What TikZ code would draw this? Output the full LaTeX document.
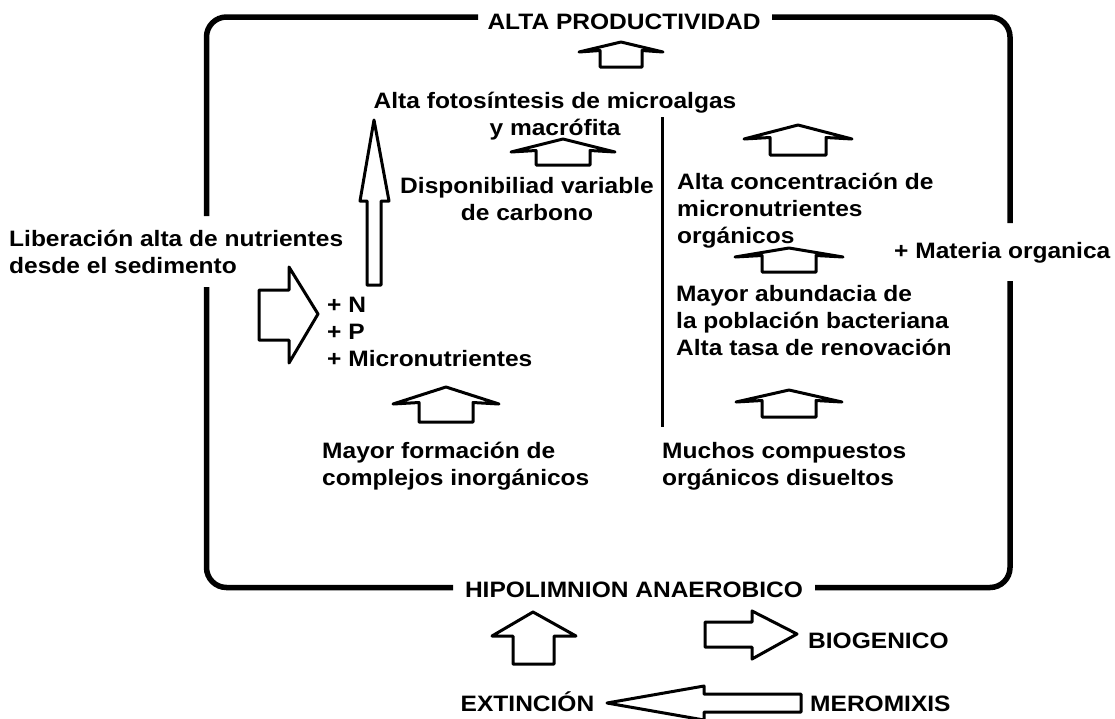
\documentclass[tikz,border=0pt]{standalone}
\usepackage{fontspec}
\newfontfamily\labfont{Liberation Sans Bold}[FakeStretch=1.1]
\begin{document}
\begin{tikzpicture}[x=1pt,y=-1pt,
  lbl/.style={font=\labfont\fontsize{22.3}{27}\selectfont, inner sep=0pt},
  frame/.style={line width=5.5pt, rounded corners=20pt},
  blk/.style={line width=3pt, line join=round, fill=white}]
  \useasboundingbox (0,0) rectangle (1115,718);
  % the box, broken by four labels
  \draw[frame] (478,17) -- (206.5,17) -- (206.5,216);
  \draw[frame] (206.5,287) -- (206.5,587.5) -- (453,587.5);
  \draw[frame] (815,587.5) -- (1010,587.5) -- (1010,281);
  \draw[frame] (1010,223) -- (1010,17) -- (772,17);
%
  \node[lbl, anchor=base] (prod) at (624,29) {ALTA PRODUCTIVIDAD};
  \node[lbl, anchor=base, align=center] (foto) at (555,135) {Alta fotosíntesis de microalgas\\y macrófita};
  \node[lbl, anchor=base, align=center] (carb) at (527,220) {Disponibiliad variable\\de carbono};
  \node[lbl, anchor=base west, align=left] (libera) at (9,273) {Liberación alta de nutrientes\\desde el sedimento};
  \node[lbl, anchor=base west, align=left] (nut) at (327,366) {+ N\\+ P\\+ Micronutrientes};
  \node[lbl, anchor=base west, align=left] (inorg) at (322,485) {Mayor formación de\\complejos inorgánicos};
  \node[lbl, anchor=base west, align=left] (disu) at (662,485) {Muchos compuestos\\orgánicos disueltos};
  \node[lbl, anchor=base west, align=left] (conc) at (677,243) {Alta concentración de\\micronutrientes\\orgánicos};
  \node[lbl, anchor=base west, align=left] (bact) at (676,355) {Mayor abundacia de\\la población bacteriana\\Alta tasa de renovación};
  \node[lbl, anchor=base west] (mat) at (894,258) {+ Materia organica};
  \node[lbl, anchor=base] (hipo) at (634,597) {HIPOLIMNION ANAEROBICO};
  \node[lbl, anchor=base west] (bio) at (808,648) {BIOGENICO};
  \node[lbl, anchor=base] (ext) at (527.5,711) {EXTINCIÓN};
  \node[lbl, anchor=base west] (mero) at (810,711) {MEROMIXIS};
%
  \draw[line width=3pt] (662,117) -- (662,427);
  % flat up arrows
  \foreach \cx/\ty/\hw/\sw/\wy/\by in {621/42/42/21/52/67, 563/139/52/27/152/165,
      798/125/54/28/139/155, 789/248/54/27/257/272, 446/387/53/27/404/422, 789/390/53/27/402/417}
    \draw[blk] (\cx,\ty) -- (\cx+\hw,\wy) -- (\cx+\sw,\wy-1.5) -- (\cx+\sw,\by) -- (\cx-\sw,\by)
      -- (\cx-\sw,\wy-1.5) -- (\cx-\hw,\wy) -- cycle;
  % block arrows
  \draw[blk] (374,120) -- (389,201) -- (381,201) -- (381,285) -- (367,285) -- (367,201) -- (360,201) -- cycle;
  \draw[blk] (259,290) -- (289,290) -- (289,267) -- (318,314) -- (289,363) -- (289,340) -- (259,340) -- cycle;
  \draw[blk] (533,612) -- (576,636) -- (554,636) -- (554,664) -- (513,664) -- (513,636) -- (492,636) -- cycle;
  \draw[blk] (705,622) -- (752,622) -- (752,611) -- (797,634) -- (752,659) -- (752,647) -- (705,647) -- cycle;
  \draw[blk] (801,694) -- (704,694) -- (704,686) -- (607,703) -- (704,720) -- (704,712) -- (801,712) -- cycle;
\end{tikzpicture}
\end{document}
